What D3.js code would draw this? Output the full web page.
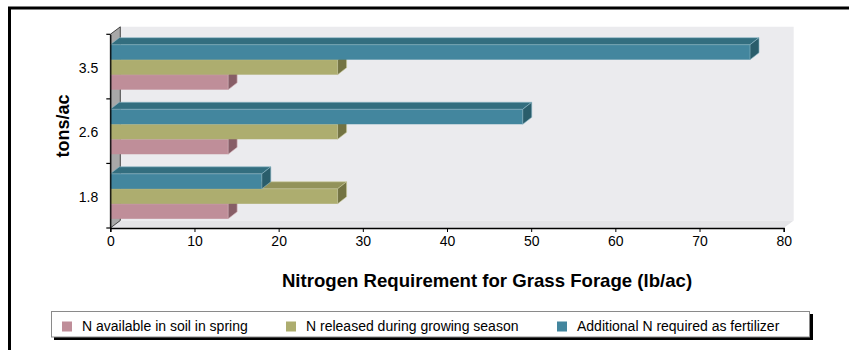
<!DOCTYPE html>
<html>
<head>
<meta charset="utf-8">
<script src="https://cdn.jsdelivr.net/npm/d3@7"></script>
<style>
  html, body { margin: 0; padding: 0; background: #fff; }
  svg { display: block; font-family: "Liberation Sans", Arial, sans-serif; }
</style>
</head>
<body>
<svg id="chart" width="849" height="350"></svg>
<script>
// Yield levels (tons/ac), top to bottom as drawn
const categories = ["3.5", "2.6", "1.8"];
// Series names, bottom to top within each yield group
const seriesNames = [
  "N available in soil in spring",
  "N released during growing season",
  "Additional N required as fertilizer"
];
// Nitrogen (lb/ac) per series, indexed by category
const soilSpring     = [14, 14, 14];
const releasedSeason = [27, 27, 27];
const fertilizer     = [76, 49, 18];
const xTicks = [0, 10, 20, 30, 40, 50, 60, 70, 80];

const seriesValues = [soilSpring, releasedSeason, fertilizer];
const palette = [
  { front: "#BF8E99", top: "#A1737D", side: "#875E67", edge: "#D6B3BB" },
  { front: "#ADAD6F", top: "#92925A", side: "#737343", edge: "#CACA98" },
  { front: "#43869E", top: "#336E7F", side: "#2A5D6B", edge: "#8DB8C8" }
];

const svg = d3.select("#chart");

// Outer frame (top and left edges)
svg.append("path")
  .attr("d", "M9.5,350 L9.5,8 L849,8")
  .attr("fill", "none").attr("stroke", "#000").attr("stroke-width", 3);

const x = d3.scaleLinear().domain([0, 80]).range([110.3, 783.7]);
const y0 = d3.scaleBand().domain(categories).range([34.3, 228]).padding(0);
const barH = 15;
const groupH = barH * seriesNames.length;
// series stacked bottom (index 0) to top
const y1 = d3.scaleBand().domain(d3.range(seriesNames.length).reverse()).range([0, groupH]);

const wall = { dx: 10, dy: -7.5 };
const depth = { dx: 9, dy: -7 };
const plotTop = y0.range()[0], plotBottom = y0.range()[1];
const plotLeft = x(0), plotRight = x(80);

const g = svg.append("g");

// Back wall
g.append("polygon")
  .attr("points", [
    [plotLeft + wall.dx, plotTop + wall.dy], [plotRight + wall.dx, plotTop + wall.dy],
    [plotRight + wall.dx, plotBottom + wall.dy], [plotLeft + wall.dx, plotBottom + wall.dy]
  ].join(" "))
  .attr("fill", "#EBEBEE");

// Floor
g.append("polygon")
  .attr("points", [
    [plotLeft, plotBottom], [plotLeft + wall.dx, plotBottom + wall.dy],
    [plotRight + wall.dx, plotBottom + wall.dy], [plotRight, plotBottom]
  ].join(" "))
  .attr("fill", "#E4E4E7");

// Side wall
g.append("polygon")
  .attr("points", [
    [plotLeft, plotTop], [plotLeft + wall.dx, plotTop + wall.dy],
    [plotLeft + wall.dx, plotBottom + wall.dy], [plotLeft, plotBottom]
  ].join(" "))
  .attr("fill", "#A8A8A8").attr("stroke", "#222").attr("stroke-width", 0.8);

// Bars
const bars = g.append("g");
categories.forEach((cat, ci) => {
  const gy = y0(cat) + (y0.bandwidth() - groupH) / 2 + 0.6;
  seriesValues.forEach((vals, si) => {
    const v = vals[ci];
    const c = palette[si];
    const yt = gy + y1(si);
    const x0 = x(0), xv = x(v);
    const bg = bars.append("g");
    bg.append("rect")
      .attr("x", x0).attr("y", yt)
      .attr("width", xv - x0).attr("height", barH)
      .attr("fill", c.front);
    bg.append("polygon")
      .attr("points", [[x0, yt], [x0 + depth.dx, yt + depth.dy], [xv + depth.dx, yt + depth.dy], [xv, yt]].join(" "))
      .attr("fill", c.top).attr("stroke", c.edge).attr("stroke-width", 0.6);
    bg.append("polygon")
      .attr("points", [[xv, yt], [xv + depth.dx, yt + depth.dy], [xv + depth.dx, yt + barH + depth.dy], [xv, yt + barH]].join(" "))
      .attr("fill", c.side).attr("stroke", c.edge).attr("stroke-width", 0.6);
  });
});

// X axis
const xAxis = d3.axisBottom(x).tickValues(xTicks).tickSize(4).tickPadding(4).tickFormat(d3.format("d"));
const xg = svg.append("g").attr("transform", `translate(0,${plotBottom})`).call(xAxis);
xg.select(".domain").attr("stroke", "#000").attr("stroke-width", 1.4);
xg.selectAll(".tick line").attr("stroke", "#000");
xg.selectAll("text").attr("font-size", 14).attr("font-family", "Liberation Sans, Arial, sans-serif").attr("fill", "#000");

// Y axis
const yAxis = d3.axisLeft(y0).tickSize(0).tickPadding(12);
const yg = svg.append("g").attr("transform", `translate(${plotLeft},0)`).call(yAxis);
yg.select(".domain").attr("stroke", "#000").attr("stroke-width", 1.2);
yg.selectAll("text").attr("font-size", 14).attr("font-family", "Liberation Sans, Arial, sans-serif")
  .attr("fill", "#000").attr("dy", "0.45em");
// band boundary ticks
const yBounds = categories.map(c => y0(c)).concat([plotBottom]);
yg.selectAll(".bound").data(yBounds).enter().append("line")
  .attr("x1", -4).attr("x2", 0).attr("y1", d => d).attr("y2", d => d)
  .attr("stroke", "#000").attr("stroke-width", 1.2);

// Axis titles
svg.append("text")
  .attr("x", 487).attr("y", 287)
  .attr("text-anchor", "middle").attr("font-weight", "bold").attr("font-size", 18.6)
  .text("Nitrogen Requirement for Grass Forage (lb/ac)");

svg.append("text")
  .attr("transform", "translate(69,126) rotate(-90)")
  .attr("text-anchor", "middle").attr("font-weight", "bold").attr("font-size", 18)
  .text("tons/ac");

// Legend
const lg = svg.append("g");
lg.append("rect").attr("x", 54).attr("y", 314).attr("width", 759).attr("height", 26).attr("fill", "#000");
lg.append("rect").attr("x", 51.5).attr("y", 311.5).attr("width", 758).attr("height", 25.5)
  .attr("fill", "#fff").attr("stroke", "#8a8a8a").attr("stroke-width", 1);
const legendX = [62, 286, 557];
seriesNames.forEach((name, i) => {
  lg.append("rect").attr("x", legendX[i]).attr("y", 321.5).attr("width", 10).attr("height", 10)
    .attr("fill", palette[i].front);
  lg.append("text").attr("x", legendX[i] + 20).attr("y", 330.5)
    .attr("font-size", 14).attr("fill", "#000").text(name);
});
</script>
</body>
</html>
